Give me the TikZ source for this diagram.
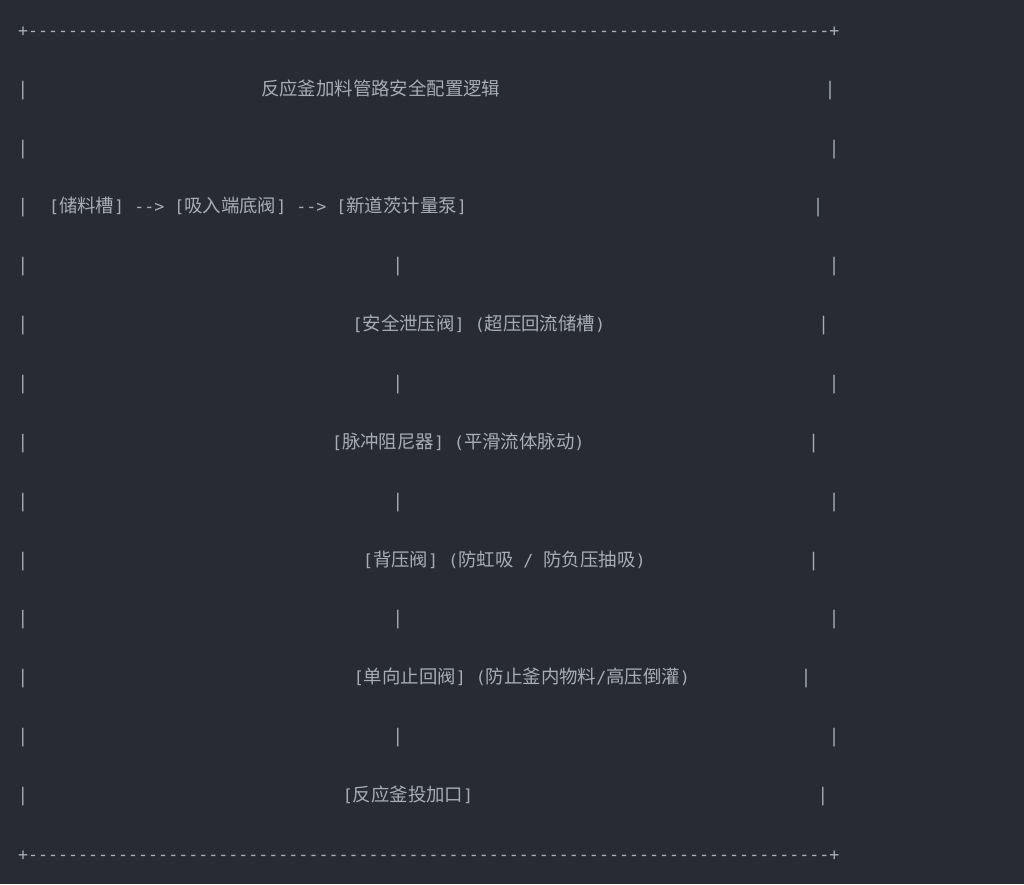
\documentclass[tikz,border=0pt]{standalone}
\usepackage{fontspec}
\setmonofont{DejaVu Sans Mono}
\newfontfamily\cjkf{Noto Sans CJK SC}
\definecolor{bgc}{RGB}{40,43,51}
\definecolor{fgc}{RGB}{168,172,180}
\newcommand\Mo[1]{{\ttfamily\fontsize{16.64pt}{20pt}\selectfont #1}}
\newcommand\Cj[1]{{\cjkf\fontsize{18.4pt}{20pt}\selectfont #1}}
\newcommand\tenhy{----------}
\frenchspacing
\tikzset{
  txt/.style={inner sep=0pt, outer sep=0pt, text=fgc, anchor=base west},
  bar/.style={inner sep=0pt, outer sep=0pt, text=fgc, anchor=base, font=\ttfamily\fontsize{16.64pt}{20pt}\selectfont, yscale=1.12}
}
\begin{document}
\begin{tikzpicture}[x=1pt,y=-1pt]
\fill[bgc] (0,0) rectangle (1024,884);
\useasboundingbox (0,0) rectangle (1024,884);
\begin{scope}[yshift=-1.5pt]
% borders
\node[txt] (top) at (18,34.80) {\Mo{+\tenhy\tenhy\tenhy\tenhy\tenhy\tenhy\tenhy\tenhy+}};
\node[txt] (bottom) at (18,858.84) {\Mo{+\tenhy\tenhy\tenhy\tenhy\tenhy\tenhy\tenhy\tenhy+}};
% left bars
\node[bar] (l1) at (23,93.66) {|};
\node[bar] (l2) at (23,152.52) {|};
\node[bar] (l3) at (23,211.38) {|};
\node[bar] (l4) at (23,270.24) {|};
\node[bar] (l5) at (23,329.10) {|};
\node[bar] (l6) at (23,387.96) {|};
\node[bar] (l7) at (23,446.82) {|};
\node[bar] (l8) at (23,505.68) {|};
\node[bar] (l9) at (23,564.54) {|};
\node[bar] (l10) at (23,623.40) {|};
\node[bar] (l11) at (23,682.26) {|};
\node[bar] (l12) at (23,741.12) {|};
\node[bar] (l13) at (23,799.98) {|};
% right bars
\node[bar] (r1) at (830,93.66) {|};
\node[bar] (r2) at (834,152.52) {|};
\node[bar] (r3) at (818,211.38) {|};
\node[bar] (r4) at (834,270.24) {|};
\node[bar] (r5) at (823.5,329.10) {|};
\node[bar] (r6) at (834,387.96) {|};
\node[bar] (r7) at (813.5,446.82) {|};
\node[bar] (r8) at (834,505.68) {|};
\node[bar] (r9) at (813.5,564.54) {|};
\node[bar] (r10) at (834,623.40) {|};
\node[bar] (r11) at (806.2,682.26) {|};
\node[bar] (r12) at (834,741.12) {|};
\node[bar] (r13) at (822.8,799.98) {|};
% middle connectors
\node[bar] (m4) at (398,270.24) {|};
\node[bar] (m6) at (398,387.96) {|};
\node[bar] (m8) at (398,505.68) {|};
\node[bar] (m10) at (398,623.40) {|};
\node[bar] (m12) at (398,741.12) {|};
% contents
\node[txt] (title) at (261,93.66) {\Cj{反应釜加料管路安全配置逻辑}};
\node[txt] (feed) at (49,211.38) {\Mo{[}\Cj{储料槽}\Mo{] --> [}\Cj{吸入端底阀}\Mo{] --> [}\Cj{新道茨计量泵}\Mo{]}};
\node[txt] (relief) at (352.7,329.10) {\Mo{[}\Cj{安全泄压阀}\Mo{] (}\Cj{超压回流储槽}\Mo{)}};
\node[txt] (damper) at (332,446.82) {\Mo{[}\Cj{脉冲阻尼器}\Mo{] (}\Cj{平滑流体脉动}\Mo{)}};
\node[txt] (backp) at (363,564.54) {\Mo{[}\Cj{背压阀}\Mo{] (}\Cj{防虹吸}\Mo{ / }\Cj{防负压抽吸}\Mo{)}};
\node[txt] (check) at (353.8,682.26) {\Mo{[}\Cj{单向止回阀}\Mo{] (}\Cj{防止釜内物料}\Mo{/}\Cj{高压倒灌}\Mo{)}};
\node[txt] (inlet) at (342.8,799.98) {\Mo{[}\Cj{反应釜投加口}\Mo{]}};
\end{scope}
\end{tikzpicture}
\end{document}
